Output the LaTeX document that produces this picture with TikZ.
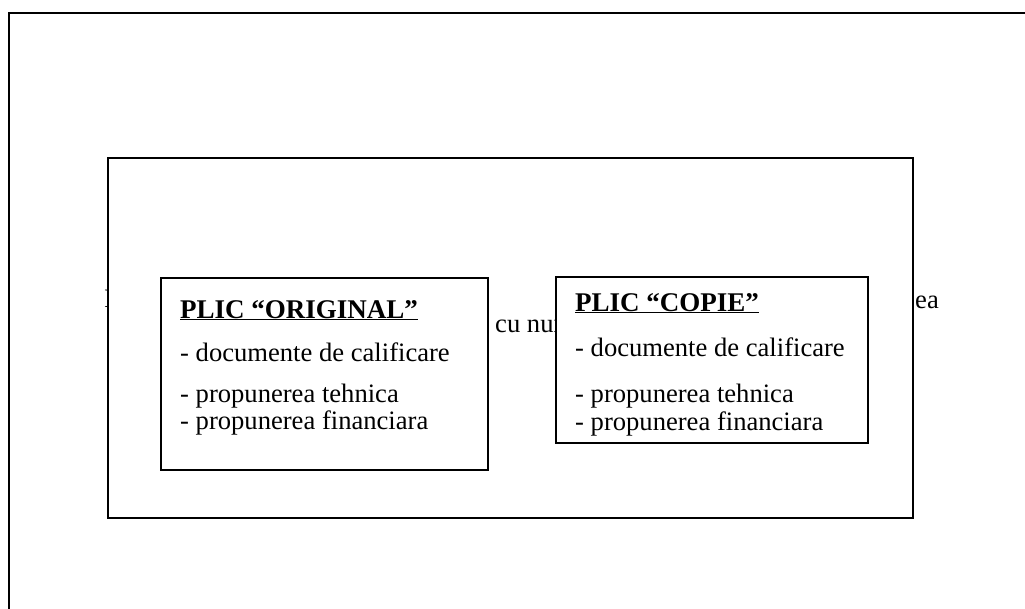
\documentclass[tikz,border=0pt]{standalone}
\usepackage{fontspec}
\setmainfont{Liberation Serif}
\begin{document}
\begin{tikzpicture}[x=1pt,y=-1pt,
  frame/.style={draw=black,line width=2pt},
  boxw/.style={draw=black,line width=2pt,fill=white},
  txt/.style={inner sep=0pt,anchor=base west,font=\fontsize{26.6}{30}\selectfont},
  ttl/.style={inner sep=0pt,anchor=base west,font=\fontsize{27}{30}\selectfont\bfseries}]
\useasboundingbox (0,0) rectangle (1025,608);
\clip (0,0) rectangle (1025,608);
\fill[white] (0,0) rectangle (1025,608);
% outer frame (extends beyond the page)
\draw[frame] (9,13) rectangle (1060,650);
% text hidden behind the middle box
\node[txt] (hidA) at (104,307) {I};
\node[txt] (hidB) at (915,308) {ea};
% middle box
\draw[boxw] (107.5,157.5) rectangle (913,518);
\node[txt] (hidC) at (495,332) {cu num};
% inner boxes
\draw[boxw] (161,278) rectangle (488,470);
\draw[boxw] (556,277) rectangle (868,443);
% ORIGINAL
\node[ttl] (t1) at (180,318) {\underline{PLIC “ORIGINAL”}};
\node[txt] (a1) at (180,361) {- documente de calificare};
\node[txt] (b1) at (180,402) {- propunerea tehnica};
\node[txt] (c1) at (180,429) {- propunerea financiara};
% COPIE
\node[ttl] (t2) at (575,311) {\underline{PLIC “COPIE”}};
\node[txt] (a2) at (575,356) {- documente de calificare};
\node[txt] (b2) at (575,402) {- propunerea tehnica};
\node[txt] (c2) at (575,430) {- propunerea financiara};
\end{tikzpicture}
\end{document}
